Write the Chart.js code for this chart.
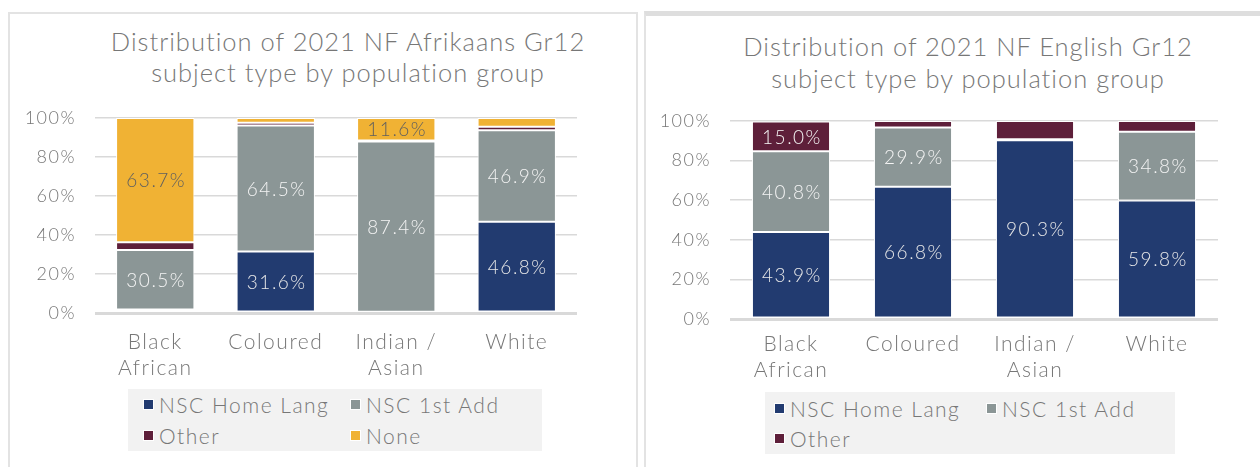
<!DOCTYPE html>
<html>
<head>
<meta charset="utf-8">
<script src="https://cdn.jsdelivr.net/npm/chart.js@4.4.1/dist/chart.umd.min.js"></script>
<style>
  html, body { margin: 0; padding: 0; background: #fff; }
  body { width: 1260px; height: 467px; position: relative; overflow: hidden; font-family: 'Lato', 'Open Sans', sans-serif; font-weight: 300; color: #777; }
  .panel { position: absolute; box-sizing: border-box; }
  #panelAfr { left: 8px; top: 12px; width: 630px; height: 470px; border: 2px solid #e3e3e3; border-bottom: none; }
  #panelEng { left: 644px; top: 11px; width: 620px; height: 470px; border-left: 2px solid #e3e3e3; border-top: 5px solid #dedede; }
  .wrap { position: absolute; }
  .title { position: absolute; text-align: center; font-size: 25.5px; letter-spacing: 1px; white-space: nowrap; }
  .legend { position: absolute; background: #f2f2f2; display: grid; align-content: center; font-size: 21px; letter-spacing: 1.5px; }
  .legend .item { display: flex; align-items: center; white-space: nowrap; }
  .legend .sw { width: 9px; height: 9px; border: 1px solid #fff; margin-right: 5px; flex: none; }
</style>
</head>
<body>
<div class="panel" id="panelAfr"></div>
<div class="panel" id="panelEng"></div>

<div class="title" style="left:98px; top:26px; width:500px; line-height:31px;">Distribution of 2021 NF Afrikaans Gr12<br>subject type by population group</div>
<div class="title" style="left:718px; top:30px; width:500px; line-height:32px;">Distribution of 2021 NF English Gr12<br>subject type by population group</div>

<div class="wrap" style="left:9px; top:13px; width:627px; height:454px;"><canvas id="afrChart"></canvas></div>
<div class="wrap" style="left:647px; top:16px; width:613px; height:451px;"><canvas id="engChart"></canvas></div>

<div class="legend" id="afrLegend" style="left:128px; top:389px; width:399px; height:62px; padding-left:15px; grid-template-columns:207px 192px; grid-auto-rows:31px;"></div>
<div class="legend" id="engLegend" style="left:765px; top:392px; width:401px; height:62px; padding-left:9px; grid-template-columns:212px 189px; grid-auto-rows:30px;"></div>

<script>
const FONT = "'Lato', 'Open Sans', sans-serif";
const TEXT_GREY = '#777777';

const CATEGORIES = [['Black', 'African'], 'Coloured', ['Indian /', 'Asian'], 'White'];
const Y_TICKS = [0, 20, 40, 60, 80, 100];

// Afrikaans, % of learners per population group
const AFR_HOME_LANG = [1.8, 31.6, 0.6, 46.8];
const AFR_FIRST_ADD = [30.5, 64.5, 87.4, 46.9];
const AFR_OTHER = [4.0, 1.5, 0.4, 1.8];
const AFR_NONE = [63.7, 2.4, 11.6, 4.5];

// English, % of learners per population group
const ENG_HOME_LANG = [43.9, 66.8, 90.3, 59.8];
const ENG_FIRST_ADD = [40.8, 29.9, 0.5, 34.8];
const ENG_OTHER = [15.0, 3.3, 9.2, 5.4];

const NAVY = '#223b70';
const GREY = '#8b9696';
const MAROON = '#5e1f3a';
const GOLD = '#f0b234';

function series(label, data, color, labelColor) {
  return {
    label, data,
    backgroundColor: color,
    borderColor: '#ffffff',
    borderWidth: 1,
    borderSkipped: false,
    labelColor
  };
}

// wider tracking for all canvas text, closer to the office font
const tracking = {
  id: 'tracking',
  beforeDraw(chart) { chart.ctx.letterSpacing = '1.5px'; }
};

// writes the value in the middle of every segment that is big enough
const segmentLabels = {
  id: 'segmentLabels',
  afterDatasetsDraw(chart) {
    const ctx = chart.ctx;
    ctx.save();
    ctx.font = `300 19px ${FONT}`;
    ctx.textAlign = 'center';
    ctx.textBaseline = 'middle';
    chart.data.datasets.forEach((ds, i) => {
      chart.getDatasetMeta(i).data.forEach((bar, j) => {
        const v = ds.data[j];
        if (v < 10) return;
        const p = bar.getProps(['x', 'y', 'base'], true);
        ctx.fillStyle = ds.labelColor;
        ctx.fillText(v.toFixed(1) + '%', p.x + 1, (p.y + p.base) / 2 + 1);
      });
    });
    ctx.restore();
  }
};

function makeChart(id, datasets, opts) {
  return new Chart(document.getElementById(id), {
    type: 'bar',
    data: { labels: CATEGORIES, datasets },
    plugins: [tracking, segmentLabels],
    options: {
      responsive: true,
      maintainAspectRatio: false,
      animation: false,
      layout: { padding: { left: 0, right: opts.padRight, top: opts.padTop, bottom: opts.padBottom } },
      datasets: { bar: { categoryPercentage: 1, barPercentage: opts.barPct } },
      plugins: { legend: { display: false }, tooltip: { enabled: false } },
      scales: {
        x: {
          stacked: true,
          grid: { display: false, drawTicks: false },
          border: { display: false },
          ticks: { color: TEXT_GREY, font: { family: FONT, size: 21, weight: 300, lineHeight: 1.2 }, padding: opts.xPad, maxRotation: 0 },
          afterFit: s => { s.height = 80; }
        },
        y: {
          stacked: true,
          min: 0,
          max: 100,
          afterBuildTicks: s => { s.ticks = Y_TICKS.map(v => ({ value: v })); },
          grid: {
            color: '#d9d9d9',
            lineWidth: c => c.tick && c.tick.value === 0 ? 3 : 1.5,
            drawTicks: false
          },
          border: { display: false },
          ticks: { color: TEXT_GREY, font: { family: FONT, size: 18, weight: 300 }, padding: 19, callback: v => v + '%' },
          afterFit: s => { s.width = opts.yWidth; }
        }
      }
    }
  });
}

function buildLegend(el, datasets) {
  el.innerHTML = datasets.map(ds =>
    `<div class="item"><span class="sw" style="background:${ds.backgroundColor}"></span>${ds.label}</div>`
  ).join('');
}

const afrSets = [
  series('NSC Home Lang', AFR_HOME_LANG, NAVY, '#e8e8e8'),
  series('NSC 1st Add', AFR_FIRST_ADD, GREY, '#f4f4f4'),
  series('Other', AFR_OTHER, MAROON, '#f4f4f4'),
  series('None', AFR_NONE, GOLD, '#5f5f5f')
];
const engSets = [
  series('NSC Home Lang', ENG_HOME_LANG, NAVY, '#e8e8e8'),
  series('NSC 1st Add', ENG_FIRST_ADD, GREY, '#f4f4f4'),
  series('Other', ENG_OTHER, MAROON, '#f4f4f4')
];

makeChart('afrChart', afrSets, { padRight: 59, padTop: 105, padBottom: 74, yWidth: 86, xPad: 17, barPct: 0.65 });
makeChart('engChart', engSets, { padRight: 42, padTop: 105, padBottom: 68, yWidth: 83, xPad: 13, barPct: 0.64 });

buildLegend(document.getElementById('afrLegend'), afrSets);
buildLegend(document.getElementById('engLegend'), engSets);
</script>
</body>
</html>
